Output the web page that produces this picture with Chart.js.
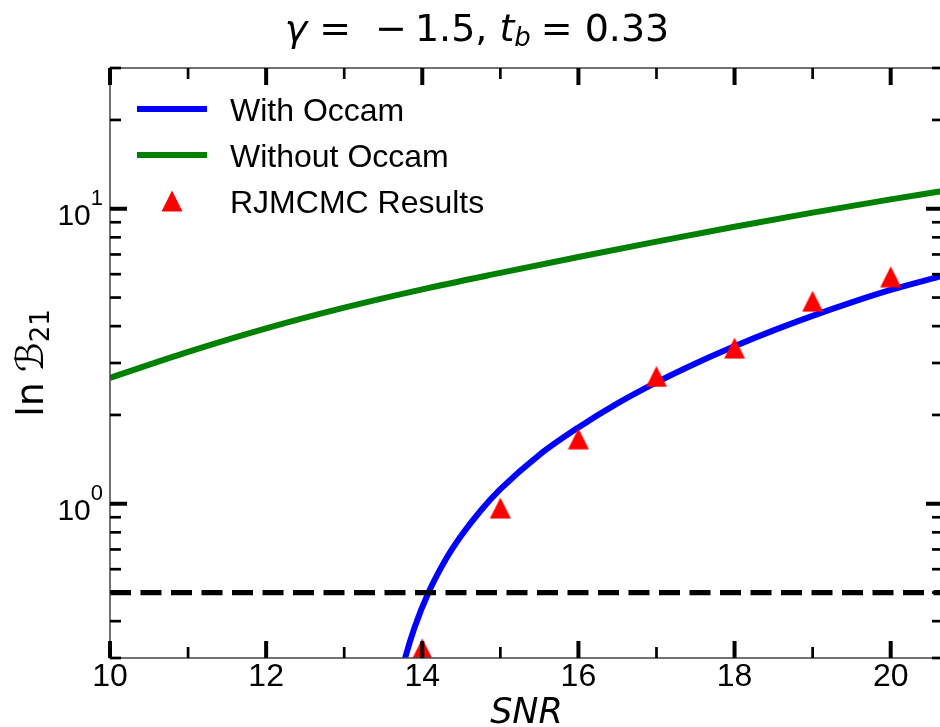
<!DOCTYPE html>
<html>
<head>
<meta charset="utf-8">
<title>ln B21 vs SNR</title>
<script src="https://cdn.jsdelivr.net/npm/chart.js@4.4.0/dist/chart.umd.min.js"></script>
<style>
  html, body { margin: 0; padding: 0; background: #fff; overflow: hidden; }
  #wrap { width: 940px; height: 727px; overflow: hidden; }
  canvas { display: block; }
</style>
</head>
<body>
<div id="wrap"><canvas id="chart" width="943" height="727"></canvas></div>
<script>
// values
const withOccamSnr = [13.7, 13.78, 13.9, 14.08, 14.3, 14.5, 14.75, 15, 15.5, 16, 16.5, 17, 17.5, 18, 18.5, 19, 19.5, 20, 20.67];
const withOccamLnB = [0.247, 0.30, 0.38, 0.50, 0.647, 0.78, 0.949, 1.12, 1.465, 1.815, 2.19, 2.58, 2.99, 3.42, 3.87, 4.335, 4.815, 5.305, 5.93];

const withoutOccamSnr = [10, 11, 12, 13, 14, 15, 16, 17, 18, 19, 20, 20.67];
const withoutOccamLnB = [2.67, 3.27, 3.93, 4.62, 5.33, 6.06, 6.86, 7.74, 8.69, 9.70, 10.76, 11.5];

const rjmcmcSnr = [14, 15, 16, 17, 18, 19, 20];
const rjmcmcLnB = [0.322, 0.967, 1.66, 2.70, 3.37, 4.86, 5.88];

const thresholdLnB = 0.5;

const xMajorTicks = [10, 12, 14, 16, 18, 20];
const xMinorTicks = [11, 13, 15, 17, 19];
const yMajorTicks = [1, 10];
const yMinorTicks = [0.3, 0.4, 0.5, 0.6, 0.7, 0.8, 0.9, 2, 3, 4, 5, 6, 7, 8, 9, 20, 30];
const yTickExponents = ['0', '1'];

const legendLabels = ['With Occam', 'Without Occam', 'RJMCMC Results'];

const BLUE = '#0000ff';
const GREEN = '#008000';
const RED = '#ff0000';
const SANS = '"Liberation Sans", Arial, sans-serif';
const MATH = '"DejaVu Sans", sans-serif';

function pairs(xs, ys) {
    return xs.map((x, i) => ({ x: x, y: ys[i] }));
}

// matplotlib-style '^' marker: centred on its bounding box
function makeTriangle() {
    const c = document.createElement('canvas');
    c.width = 22;
    c.height = 22;
    const g = c.getContext('2d');
    g.fillStyle = RED;
    g.beginPath();
    g.moveTo(11, 0.5);
    g.lineTo(0.5, 21.5);
    g.lineTo(21.5, 21.5);
    g.closePath();
    g.fill();
    return c;
}
const triangle = makeTriangle();

// draws a row of text pieces, each with its own font / baseline shift
function drawRuns(ctx, runs, cx, baseline) {
    let total = 0;
    runs.forEach(r => {
        ctx.font = r.font;
        r.w = ctx.measureText(r.text).width;
        total += (r.gap || 0) + r.w;
    });
    let x = cx - total / 2;
    ctx.textAlign = 'left';
    ctx.textBaseline = 'alphabetic';
    runs.forEach(r => {
        x += r.gap || 0;
        ctx.font = r.font;
        ctx.fillText(r.text, x, baseline + (r.dy || 0));
        x += r.w;
    });
}

const frame = {
    id: 'frame',
    afterDatasetsDraw(chart) {
        const ctx = chart.ctx;
        const a = chart.chartArea;
        const xs = chart.scales.x;
        const ys = chart.scales.y;
        ctx.save();

        // spines
        ctx.strokeStyle = '#444';
        ctx.lineWidth = 1.5;
        ctx.strokeRect(a.left, a.top, a.right - a.left, a.bottom - a.top);

        // inward ticks on all four sides
        ctx.strokeStyle = '#000';
        ctx.lineCap = 'butt';
        const line = (x1, y1, x2, y2, w) => {
            ctx.lineWidth = w;
            ctx.beginPath();
            ctx.moveTo(x1, y1);
            ctx.lineTo(x2, y2);
            ctx.stroke();
        };
        const xTick = (v, len, w) => {
            const x = xs.getPixelForValue(v);
            line(x, a.bottom, x, a.bottom - len, w);
            line(x, a.top, x, a.top + len, w);
        };
        const yTick = (v, len, w) => {
            const y = ys.getPixelForValue(v);
            line(a.left, y, a.left + len, y, w);
            line(a.right, y, a.right - len, y, w);
        };
        xMajorTicks.forEach(v => xTick(v, 17, 4));
        xMinorTicks.forEach(v => xTick(v, 11, 2.7));
        yMajorTicks.forEach(v => yTick(v, 17, 4));
        yMinorTicks.forEach(v => yTick(v, 11, 2.7));

        // tick labels
        ctx.fillStyle = '#000';
        ctx.font = '32px ' + SANS;
        ctx.textAlign = 'center';
        ctx.textBaseline = 'alphabetic';
        xMajorTicks.forEach(v => {
            ctx.fillText(String(v), xs.getPixelForValue(v), a.bottom + 28);
        });
        yMajorTicks.forEach((v, i) => {
            const y = ys.getPixelForValue(v);
            ctx.font = '22px ' + SANS;
            const supW = ctx.measureText(yTickExponents[i]).width;
            ctx.textAlign = 'right';
            ctx.fillText(yTickExponents[i], 103, y - 4);
            ctx.font = '30px ' + SANS;
            ctx.fillText('10', 103 - supW, y + 16);
        });

        // axis labels
        drawRuns(ctx, [{ text: 'SNR', font: 'italic 35px ' + MATH }], (a.left + a.right) / 2, 723);

        ctx.save();
        ctx.translate(43, (a.top + a.bottom) / 2);
        ctx.rotate(-Math.PI / 2);
        drawRuns(ctx, [
            { text: 'ln', font: '38px ' + MATH },
            { text: '\u212C', font: 'italic 38px ' + MATH, gap: 10 },
            { text: '21', font: '26px ' + MATH, dy: 6 }
        ], 0, 0);
        ctx.restore();

        // title
        drawRuns(ctx, [
            { text: '\u03B3', font: 'italic 38px ' + MATH },
            { text: '=', font: '38px ' + MATH, gap: 12 },
            { text: '\u2212', font: '38px ' + MATH, gap: 24 },
            { text: '1.5,', font: '38px ' + MATH, gap: 8 },
            { text: 't', font: 'italic 38px ' + MATH, gap: 12 },
            { text: 'b', font: 'italic 26px ' + MATH, dy: 5 },
            { text: '=', font: '38px ' + MATH, gap: 10 },
            { text: '0.33', font: '38px ' + MATH, gap: 12 }
        ], 477, 41);

        // legend (inside the axes, top left)
        const rows = [109, 155, 201];
        ctx.strokeStyle = BLUE;
        line(137, rows[0], 207, rows[0], 6);
        ctx.strokeStyle = GREEN;
        line(137, rows[1], 207, rows[1], 6);
        ctx.drawImage(triangle, 172 - 11, rows[2] - 11);
        ctx.font = '32px ' + SANS;
        ctx.textAlign = 'left';
        ctx.fillStyle = '#000';
        legendLabels.forEach((t, i) => ctx.fillText(t, 230, rows[i] + 11.5));

        ctx.restore();
    }
};

const chart = new Chart(document.getElementById('chart').getContext('2d'), {
    type: 'line',
    data: {
        datasets: [
            {
                label: legendLabels[2],
                data: pairs(rjmcmcSnr, rjmcmcLnB),
                showLine: false,
                pointStyle: triangle,
                pointRadius: 10,
                order: 0,
                clip: 0
            },
            {
                label: 'threshold',
                data: [{ x: 10, y: thresholdLnB }, { x: 20.67, y: thresholdLnB }],
                borderColor: '#000',
                borderWidth: 5.3,
                borderDash: [21, 9.5],
                pointRadius: 0,
                order: 1,
                clip: 0
            },
            {
                label: legendLabels[0],
                data: pairs(withOccamSnr, withOccamLnB),
                borderColor: BLUE,
                borderWidth: 6,
                pointRadius: 0,
                cubicInterpolationMode: 'monotone',
                order: 2,
                clip: 0
            },
            {
                label: legendLabels[1],
                data: pairs(withoutOccamSnr, withoutOccamLnB),
                borderColor: GREEN,
                borderWidth: 6,
                pointRadius: 0,
                cubicInterpolationMode: 'monotone',
                order: 3,
                clip: 0
            }
        ]
    },
    options: {
        responsive: false,
        animation: false,
        devicePixelRatio: 1,
        layout: { autoPadding: false, padding: { top: 68, left: 0, right: 0, bottom: 0 } },
        plugins: {
            legend: { display: false },
            title: { display: false },
            tooltip: { enabled: false }
        },
        scales: {
            x: {
                type: 'linear',
                bounds: 'data',
                min: 10,
                max: 20.67,
                grid: { display: false, drawTicks: false },
                border: { display: false },
                ticks: { display: false },
                afterFit: s => { s.height = 69; }
            },
            y: {
                type: 'logarithmic',
                min: 0.3,
                max: 30,
                grid: { display: false, drawTicks: false },
                border: { display: false },
                ticks: { display: false },
                afterFit: s => { s.width = 110; }
            }
        }
    },
    plugins: [frame]
});
</script>
</body>
</html>
